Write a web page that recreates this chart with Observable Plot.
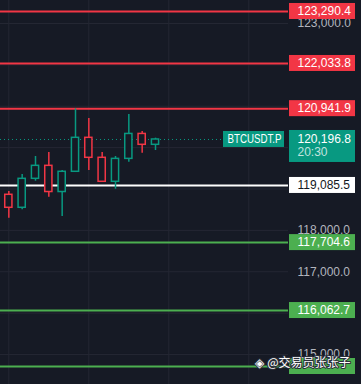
<!DOCTYPE html>
<html><head><meta charset="utf-8">
<script src="https://cdn.jsdelivr.net/npm/d3@7"></script>
<script src="https://cdn.jsdelivr.net/npm/@observablehq/plot@0.6"></script>
<style>
html,body{margin:0;padding:0;background:#161a25;}
#chart svg{display:block}
</style></head><body><div id="chart"></div>
<script>
// ---- data ----
const opens  = [118860, 118546, 119246, 119560, 118927, 119416, 120237, 119754, 119174, 119728, 120331, 120068];
const closes = [118546, 119246, 119560, 118927, 119416, 120237, 119754, 119174, 119728, 120331, 120068, 120196.8];
const highs  = [118939, 119350, 119786, 119882, 119447, 120938, 120704, 119882, 119786, 120801, 120390, 120229];
const lows   = [118294, 118497, 119188, 118802, 118335, 119416, 119447, 119174, 118995, 119648, 119865, 119930];

const levelValues = [123290.4, 122033.8, 120941.9, 119085.5, 117704.6, 116062.7, 114710];
const levelKinds  = ["resistance", "resistance", "resistance", "pivot", "support", "support", "support"];
const levelShown  = [true, true, true, true, true, true, false];

const yTicks = [115000, 116000, 117000, 118000, 119000, 120000, 121000, 122000, 123000];
const yTickLabels = [115000, 117000, 118000, 123000]; // the others sit under price boxes
const xGrid = [0, 6, 12, 18];

const symbol = "BTCUSDT.P";
const lastPrice = 120196.8;
const countdown = "20:30";
const watermark = "◈ @交易员张张子";

// ---- styles ----
const BG = "#161a25";
const UP = "#089981";
const DOWN = "#f23645";
const kindColor = {resistance: "#f23645", pivot: "#ffffff", support: "#4caf50"};
const kindText = {resistance: "#ffffff", pivot: "#131722", support: "#ffffff"};
const fmt = d3.format(",.1f");

const candles = opens.map((o, i) => ({i, open: o, close: closes[i], high: highs[i], low: lows[i]}));
const levels = levelValues.map((v, i) => ({value: v, kind: levelKinds[i], shown: levelShown[i]}));
const candleColor = d => d.close >= d.open ? UP : DOWN;

const chart = Plot.plot({
  width: 361, height: 384,
  marginLeft: 0, marginRight: 73, marginTop: 0, marginBottom: 0,
  style: {background: BG, fontFamily: "'Liberation Sans', Arial, sans-serif", fontSize: "12px"},
  x: {domain: [-0.625, 20.975], axis: null},
  y: {domain: [114274.9, 123555.9], axis: null},
  color: {type: "identity"},
  marks: [
    Plot.gridY(yTicks, {stroke: "#242733", strokeOpacity: 1}),
    Plot.gridX(xGrid, {stroke: "#242733", strokeOpacity: 1}),
    Plot.ruleY(levels, {y: "value", stroke: d => kindColor[d.kind], strokeWidth: 2}),
    Plot.ruleY([lastPrice], {y: d => d, stroke: UP, strokeDasharray: "1,3", strokeWidth: 1, insetRight: 66}),
    Plot.ruleX(candles, {x: "i", y1: "low", y2: "high", stroke: candleColor, strokeWidth: 1.5}),
    Plot.rect(candles, {x1: d => d.i - 0.27, x2: d => d.i + 0.27, y1: "open", y2: "close", fill: BG, stroke: candleColor, strokeWidth: 1.5}),
    Plot.text(yTickLabels, {y: d => d, text: d => fmt(d), frameAnchor: "right", dx: 9, textAnchor: "start", fill: "#b2b5be", fontSize: 12}),
    Plot.rect(levels, {y1: "value", y2: "value", insetTop: -8, insetBottom: -8, insetLeft: 289, insetRight: -67, fill: d => kindColor[d.kind]}),
    Plot.text(levels.filter(d => d.shown), {y: "value", text: d => fmt(d.value), frameAnchor: "right", dx: 9, textAnchor: "start", fill: d => kindText[d.kind], fontSize: 12}),
    Plot.rect([lastPrice], {y1: d => d, y2: d => d, insetTop: -8, insetBottom: -8, insetLeft: 223, insetRight: 4, fill: UP}),
    Plot.text([symbol], {y: () => lastPrice, text: d => d, frameAnchor: "right", dx: -34, textAnchor: "middle", fill: "#ffffff", fontSize: 12}),
    Plot.rect([lastPrice], {y1: d => d, y2: d => d, insetTop: -9, insetBottom: -23, insetLeft: 289, insetRight: -67, fill: UP}),
    Plot.text([lastPrice], {y: d => d, text: d => fmt(d), frameAnchor: "right", dx: 9, textAnchor: "start", fill: "#ffffff", fontSize: 12}),
    Plot.text([countdown], {y: () => lastPrice, text: d => d, frameAnchor: "right", dx: 9, dy: 13, textAnchor: "start", fill: "#ffffff", fillOpacity: 0.75, fontSize: 12}),
    Plot.text([watermark], {text: d => d, frameAnchor: "bottom-right", dx: 62, dy: -18, textAnchor: "end", fill: "#ffffff", stroke: "#2b2f3a", strokeWidth: 2, fontSize: 12, fontFamily: "'Noto Sans CJK SC', sans-serif"})
  ]
});
// condense the symbol tag text to fit its box, as in the reference
chart.querySelectorAll("text").forEach(t => {
  if (t.textContent === symbol) { t.setAttribute("textLength", "54"); t.setAttribute("lengthAdjust", "spacingAndGlyphs"); }
});
document.getElementById("chart").appendChild(chart);
</script>
</body></html>
